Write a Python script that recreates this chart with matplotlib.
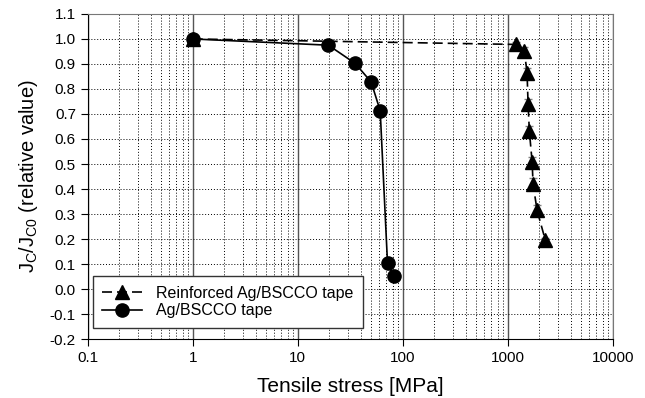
import numpy as np
import matplotlib.pyplot as plt
from matplotlib.ticker import LogLocator, FixedLocator, NullFormatter

plt.rcParams['font.family'] = ['Liberation Sans', 'DejaVu Sans']

# Reinforced Ag/BSCCO tape
stress_r = [1, 1208, 1440, 1528, 1562, 1607, 1706, 1743, 1902, 2282]
jc_r = [1.0, 0.978, 0.953, 0.862, 0.74, 0.63, 0.51, 0.42, 0.315, 0.195]
err_r = [0, 0.01, 0.015, 0.02, 0.02, 0.02, 0.02, 0.025, 0.02, 0.01]

# Ag/BSCCO tape
stress_a = [1, 19.6, 35.3, 50, 61, 71.6, 81.7]
jc_a = [1.0, 0.975, 0.902, 0.828, 0.713, 0.104, 0.052]

labels = ["Reinforced Ag/BSCCO tape", "Ag/BSCCO tape"]
yticks = np.round(np.arange(-0.2, 1.11, 0.1), 1)

fig = plt.figure(figsize=(6.45, 3.98), dpi=100)
ax = fig.add_axes([0.136, 0.148, 0.814, 0.817])

ax.errorbar(stress_r[1:], jc_r[1:], yerr=err_r[1:], fmt='none', ecolor='gray',
            elinewidth=2, capsize=3, zorder=2)
ax.plot(stress_r, jc_r, color='black', linestyle=(0, (6, 3)), marker='^',
        markersize=9.5, linewidth=1.2, label=labels[0], zorder=3)
ax.plot(stress_a, jc_a, color='black', linestyle='-', marker='o',
        markersize=9.5, linewidth=1.2, label=labels[1], zorder=3)

ax.set_xscale('log')
ax.set_xlim(0.1, 10000)
ax.set_ylim(-0.2, 1.1)
ax.yaxis.set_major_locator(FixedLocator(yticks))
ax.set_yticklabels([f"{v:.1f}" for v in yticks])
ax.set_xticks([0.1, 1, 10, 100, 1000, 10000])
ax.set_xticklabels(["0.1", "1", "10", "100", "1000", "10000"])
ax.xaxis.set_minor_locator(LogLocator(base=10, subs=np.arange(2, 10), numticks=10))
ax.xaxis.set_minor_formatter(NullFormatter())

ax.grid(which='major', axis='x', color='#555555', linestyle='-', linewidth=1)
ax.grid(which='minor', axis='x', color='black', linestyle=(0, (1, 2)), linewidth=0.7)
ax.grid(which='major', axis='y', color='black', linestyle=(0, (1, 2)), linewidth=0.7)
ax.set_axisbelow(True)

ax.tick_params(which='major', direction='out', length=5, labelsize=11, color='black')
ax.tick_params(which='minor', length=0)
ax.spines['top'].set_color('#777777')
ax.spines['right'].set_color('#777777')

ax.set_xlabel("Tensile stress [MPa]", fontsize=15, labelpad=9)
ax.set_ylabel(r"J$_\mathregular{C}$/J$_\mathregular{C0}$ (relative value)", fontsize=14.5,
              labelpad=7)

leg = ax.legend(loc='lower left', bbox_to_anchor=(0.0, 0.02), fontsize=11.5,
                fancybox=False, framealpha=1, edgecolor='#333333',
                borderaxespad=0.3, borderpad=0.6, labelspacing=0.15,
                handlelength=2.5, handletextpad=0.9)
leg.get_frame().set_linewidth(1)

fig.savefig("out.png", dpi=100)
